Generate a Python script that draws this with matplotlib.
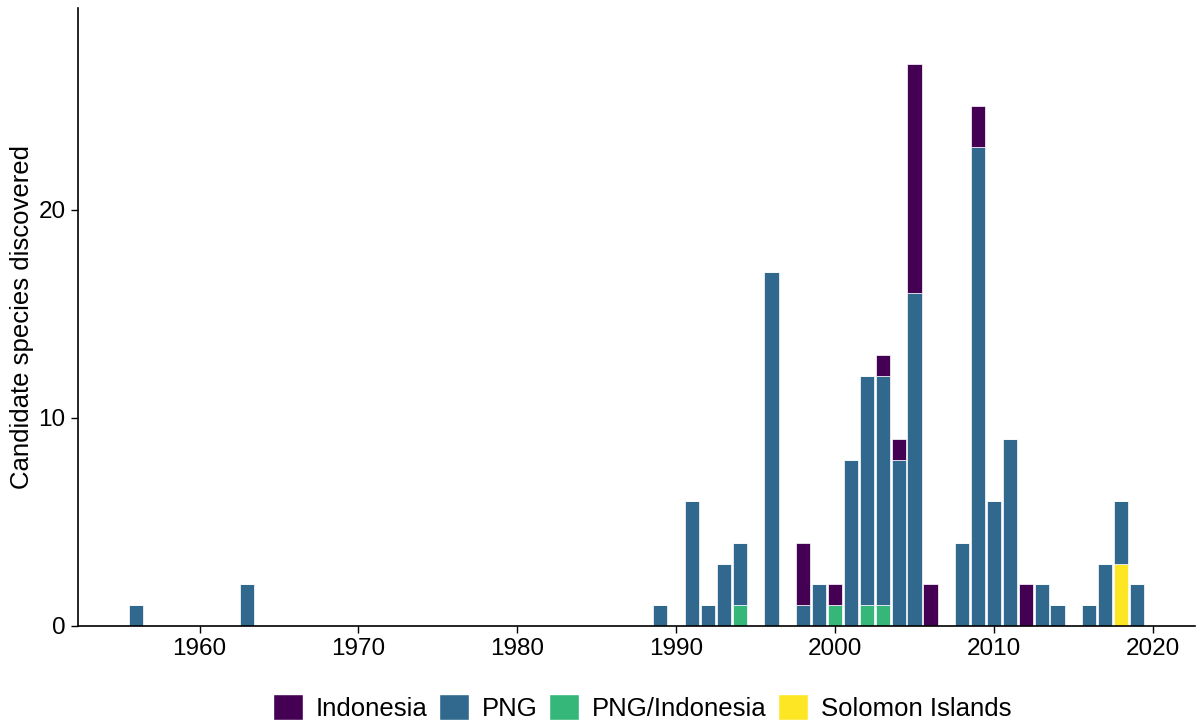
import matplotlib

matplotlib.use("Agg")
import matplotlib.pyplot as plt
from matplotlib.patches import Patch
import numpy as np

plt.rcParams["font.family"] = ["Liberation Sans", "DejaVu Sans"]

years = [1956, 1963, 1989, 1991, 1992, 1993, 1994, 1996, 1998, 1999, 2000,
         2001, 2002, 2003, 2004, 2005, 2006, 2008, 2009, 2010, 2011, 2012,
         2013, 2014, 2016, 2017, 2018, 2019]
solomon = [0, 0, 0, 0, 0, 0, 0, 0, 0, 0, 0,
           0, 0, 0, 0, 0, 0, 0, 0, 0, 0, 0,
           0, 0, 0, 0, 3, 0]
png_indo = [0, 0, 0, 0, 0, 0, 1, 0, 0, 0, 1,
            0, 1, 1, 0, 0, 0, 0, 0, 0, 0, 0,
            0, 0, 0, 0, 0, 0]
png = [1, 2, 1, 6, 1, 3, 3, 17, 1, 2, 0,
       8, 11, 11, 8, 16, 0, 4, 23, 6, 9, 0,
       2, 1, 1, 3, 3, 2]
indonesia = [0, 0, 0, 0, 0, 0, 0, 0, 3, 0, 1,
             0, 0, 1, 1, 11, 2, 0, 2, 0, 0, 2,
             0, 0, 0, 0, 0, 0]

labels = ["Indonesia", "PNG", "PNG/Indonesia", "Solomon Islands"]
colors = {"Indonesia": "#440154", "PNG": "#31688E",
          "PNG/Indonesia": "#35B779", "Solomon Islands": "#FDE725"}

fig = plt.figure(figsize=(11.98, 7.22), dpi=100)
ax = fig.add_axes([0.0651, 0.133, 0.9324, 0.856])

x = np.array(years)
bottom = np.zeros(len(years))
# ggplot stacks the first level on top, so draw from the last one up
for name, vals in [("Solomon Islands", solomon), ("PNG/Indonesia", png_indo),
                   ("PNG", png), ("Indonesia", indonesia)]:
    v = np.array(vals, dtype=float)
    ax.bar(x, v, width=0.9, bottom=bottom, color=colors[name],
           edgecolor="white", linewidth=0.5)
    bottom += v

ax.set_xlim(1952.35, 2022.65)
ax.set_ylim(0, 29.7)
ax.set_xticks([1960, 1970, 1980, 1990, 2000, 2010, 2020])
ax.set_yticks([0, 10, 20])
ax.tick_params(labelsize=17.5, length=5, width=1, colors="black", pad=4)
ax.set_ylabel("Candidate species discovered", fontsize=18.5, labelpad=3)
for side in ["top", "right"]:
    ax.spines[side].set_visible(False)
for side in ["left", "bottom"]:
    ax.spines[side].set_linewidth(1.2)

handles = [Patch(facecolor=colors[n], edgecolor="white", label=n) for n in labels]
fig.legend(handles=handles, loc="lower center", bbox_to_anchor=(0.536, -0.03),
           ncol=4, frameon=False, fontsize=18.5, handlelength=1.17,
           handleheight=1.17, handletextpad=0.5, columnspacing=0.45)

fig.savefig("out.png", dpi=100)
